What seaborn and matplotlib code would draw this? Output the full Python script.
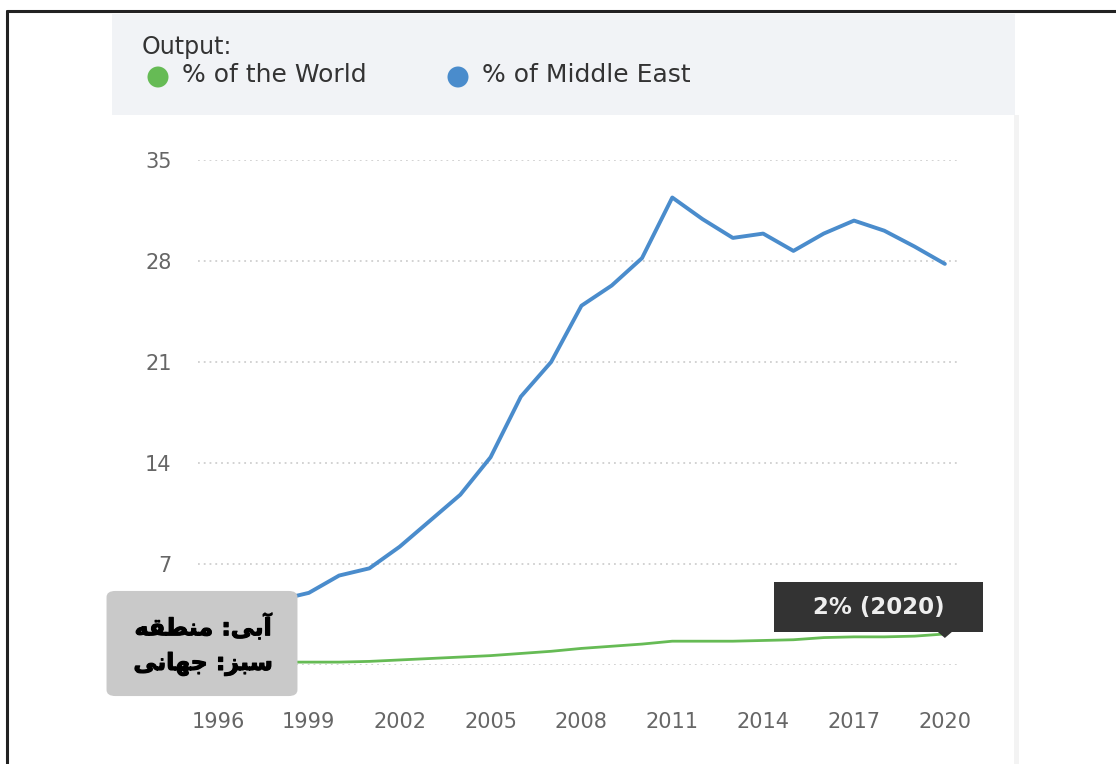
import matplotlib
matplotlib.use("Agg")
import matplotlib.pyplot as plt
from matplotlib.patches import Rectangle, FancyBboxPatch, Ellipse, Polygon
from matplotlib.lines import Line2D
import matplotlib.patheffects as pe
import seaborn as sns
import pandas as pd

years = list(range(1996, 2021))
middle_east = [3.6, 4.0, 4.5, 5.0, 6.2, 6.7, 8.2, 10.0, 11.8, 14.4, 18.6, 21.0, 24.9,
               26.3, 28.2, 32.4, 30.9, 29.6, 29.9, 28.7, 29.9, 30.8, 30.1, 29.0, 27.8]
world = [0.2, 0.2, 0.2, 0.2, 0.2, 0.25, 0.35, 0.45, 0.55, 0.65, 0.8, 0.95, 1.15,
         1.3, 1.45, 1.65, 1.65, 1.65, 1.7, 1.75, 1.9, 1.95, 1.95, 2.0, 2.15]
series_names = ["% of the World", "% of Middle East"]
series_colors = ["#66bb55", "#4a8ccc"]
y_ticks = [0, 7, 14, 21, 28, 35]
y_tick_labels = ["", "7", "14", "21", "28", "35"]
x_ticks = list(range(1996, 2021, 3))
legend_title = "Output:"
tooltip_text = "2% (2020)"
# Persian note (pre-shaped presentation forms in visual order)
note_line1 = "\ufeea\ufed8\ufec4\ufee8\ufee3 :\ufef0\ufe91\ufe81"   # آبی: منطقه
note_line2 = "\ufef0\ufee7\ufe8e\ufeec\ufe9f :\ufeb0\ufe92\ufeb3"   # سبز: جهانی

W, H = 1116, 764
sns.set_theme(style="white")
plt.rcParams['font.family'] = ['DejaVu Sans']

fig = plt.figure(figsize=(W / 100, H / 100), dpi=100)
fig.patch.set_facecolor("white")

def fx(x):
    return x / W

def fy(y):
    return 1 - y / H

# header panel
fig.add_artist(Rectangle((fx(112), fy(115)), fx(1015) - fx(112), fy(14) - fy(115),
                         transform=fig.transFigure, facecolor="#f1f3f6", edgecolor="none", zorder=0))
# faint panel edge
fig.add_artist(Rectangle((fx(1014), 0), fx(5), fy(115),
                         transform=fig.transFigure, facecolor="#f3f3f3", edgecolor="none", zorder=0))
# outer frame lines
fig.add_artist(Line2D([fx(7), 1], [fy(11), fy(11)], transform=fig.transFigure, color="#222222", lw=2.2))
fig.add_artist(Line2D([fx(7), fx(7)], [fy(11), 0], transform=fig.transFigure, color="#222222", lw=2.2))

# legend
fig.text(fx(142), fy(47), legend_title, fontsize=17, color="#333333", va="center", ha="left")
leg_x = [158, 458]
for name, col, cx in zip(series_names, series_colors, leg_x):
    fig.add_artist(Ellipse((fx(cx), fy(77)), 21 / W, 21 / H, transform=fig.transFigure,
                           facecolor=col, edgecolor="none"))
    fig.text(fx(cx + 24), fy(75), name, fontsize=18, color="#333333", va="center", ha="left")

# axes
ax = fig.add_axes([fx(198), fy(665), fx(960) - fx(198), fy(160) - fy(665)])
ax.set_facecolor("none")
df = pd.DataFrame({
    "year": years * 2,
    "value": world + middle_east,
    "series": [series_names[0]] * len(years) + [series_names[1]] * len(years),
})
sns.lineplot(data=df, x="year", y="value", hue="series", palette=series_colors,
             hue_order=series_names, legend=False, ax=ax)
ax.lines[0].set_linewidth(2.0)
ax.lines[1].set_linewidth(2.8)
for ln in ax.lines:
    ln.set_clip_on(False)
    ln.set_solid_joinstyle("round")

ax.set_xlim(1995.34, 2020.5)
ax.set_ylim(0, 35)
ax.set_yticks(y_ticks)
ax.set_xticks(x_ticks)
ax.set_xticklabels([str(t) for t in x_ticks])
ax.set_yticklabels(y_tick_labels)
ax.tick_params(axis="both", length=0, labelsize=15, labelcolor="#666666")
ax.tick_params(axis="y", pad=19)
ax.tick_params(axis="x", pad=34)
ax.grid(axis="y", color="#cfcfcf", linestyle=(0, (1, 2.2)), linewidth=1.3)
ax.grid(axis="x", visible=False)
for s in ax.spines.values():
    s.set_visible(False)
ax.set_xlabel("")
ax.set_ylabel("")

# end-point tooltip anchored to the last world value
px_end = ax.transData.transform((years[-1], world[-1]))
ex, ey = px_end[0], H - px_end[1]
bx0, bx1, by0, by1 = ex - 171, ex + 38, ey - 52, ey - 2
fig.add_artist(Rectangle((fx(bx0), fy(by1)), fx(bx1) - fx(bx0), fy(by0) - fy(by1),
                         transform=fig.transFigure, facecolor="#333333", edgecolor="none", zorder=10))
fig.add_artist(Polygon([(fx(ex - 7), fy(by1)), (fx(ex + 7), fy(by1)), (fx(ex), fy(ey + 4))],
                       closed=True, transform=fig.transFigure, facecolor="#333333",
                       edgecolor="none", zorder=10))
fig.text(fx((bx0 + bx1) / 2), fy((by0 + by1) / 2 + 1), tooltip_text, fontsize=16.5,
         fontweight="bold", color="#eeeeee", ha="center", va="center", zorder=11)

# Persian note box
fig.add_artist(FancyBboxPatch((fx(111), fy(693)), fx(293) - fx(111), fy(594) - fy(693),
                              boxstyle="round,pad=0.004,rounding_size=0.008",
                              transform=fig.transFigure, facecolor="#c9c9c9",
                              edgecolor="none", zorder=12))
bold_fx = [pe.withStroke(linewidth=0.8, foreground="black")]
fig.text(fx(203), fy(627), note_line1, fontsize=17, fontweight="bold", color="black",
         ha="center", va="center", family=["DejaVu Sans"], zorder=13, path_effects=bold_fx)
fig.text(fx(203), fy(664), note_line2, fontsize=17, fontweight="bold", color="black",
         ha="center", va="center", family=["DejaVu Sans"], zorder=13, path_effects=bold_fx)

fig.savefig("out.png", dpi=100)
